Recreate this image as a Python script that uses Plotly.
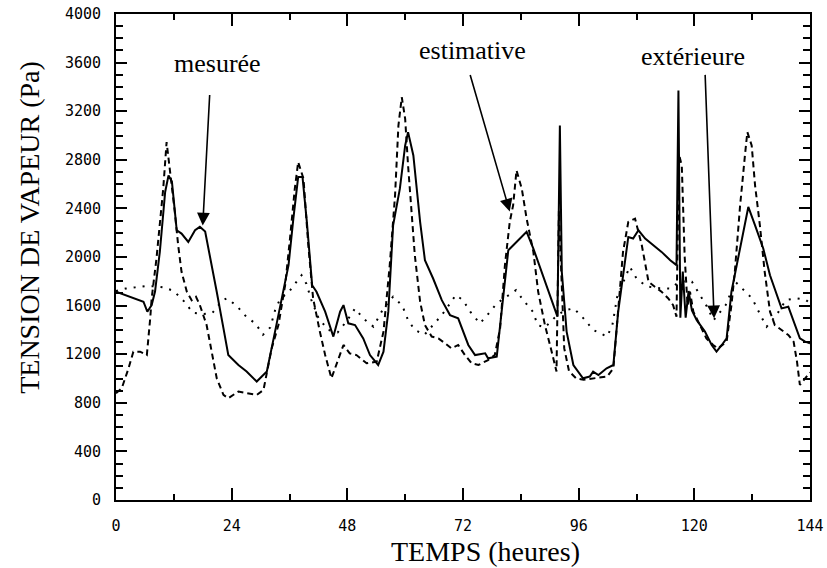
import plotly.graph_objects as go

# --- data ---
hours_mesuree = [0, 2.9, 5.7, 6.5, 7.4, 8.1, 9.1, 10.2, 10.9, 11.6, 12.6, 13.6, 15.0, 16.4, 17.4,
                 18.5, 19.5, 20.9, 22.3, 23.3, 25.4, 27.1, 29.2, 31.3, 33.0, 34.7, 35.8, 36.8, 37.8,
                 38.7, 39.6, 40.7, 41.6, 43.4, 45.1, 46.5, 47.2, 48.2, 49.6, 51.3, 52.7, 54.4, 55.5,
                 56.5, 57.5, 58.9, 60.0, 60.6, 61.7, 63.1, 64.1, 65.8, 67.6, 69.3, 71.0, 73.1, 74.5,
                 76.6, 77.2, 79.0, 80.0, 81.4, 83.1, 85.2, 86.6, 88.3, 90.4, 91.6, 92.1, 92.5, 93.5,
                 94.9, 96.9, 98.3, 99.0, 100.1, 101.8, 103.2, 104.2, 105.6, 106.3, 107.3, 108.4,
                 109.8, 111.5, 113.2, 115.0, 116.3, 116.7, 117.1, 117.6, 118.2, 118.8, 119.5, 120.5,
                 122.2, 123.6, 124.6, 125.7, 126.7, 127.7, 128.8, 130.1, 131.2, 132.6, 134.3, 135.7,
                 137.1, 138.1, 139.5, 140.9, 141.9, 143.0, 144]
tension_mesuree = [1714, 1673, 1632, 1550, 1604, 1716, 2045, 2535, 2672, 2620, 2220, 2193, 2124, 2220, 2248,
                   2209, 2015, 1714, 1413, 1193, 1111, 1057, 975, 1057, 1386, 1714, 1933, 2316, 2659,
                   2659, 2289, 1768, 1714, 1550, 1345, 1550, 1604, 1454, 1440, 1330, 1193, 1111, 1221,
                   1550, 2261, 2562, 2918, 3028, 2836, 2289, 1974, 1823, 1645, 1522, 1495, 1276, 1193,
                   1207, 1166, 1180, 1550, 2056, 2124, 2207, 2070, 1878, 1659, 1509, 3082, 1878, 1386,
                   1111, 1002, 1016, 1057, 1029, 1084, 1111, 1550, 1933, 2165, 2152, 2220,
                   2152, 2097, 2042, 1974, 1933, 3370, 1500, 1880, 1500, 1720, 1560, 1480,
                   1386, 1276, 1221, 1276, 1330, 1714, 1933, 2207, 2412, 2261, 2070, 1850,
                   1686, 1577, 1591, 1440, 1330, 1303, 1290]

hours_estimative = [0, 1.2, 2.6, 3.6, 5.0, 6.4, 7.1, 7.4, 8.4, 9.8, 10.5, 11.2, 12.2, 12.9, 13.6, 14.7,
                    15.7, 16.6, 17.4, 18.8, 19.9, 20.9, 22.3, 23.3, 25.4, 27.4, 29.2, 30.6, 31.3, 32.3,
                    33.7, 35.1, 36.1, 37.1, 37.8, 38.9, 39.9, 40.9, 42.3, 43.4, 44.7, 46.1, 47.2, 48.5,
                    49.9, 52.0, 54.1, 55.5, 56.8, 57.9, 58.6, 59.3, 60.0, 60.6, 61.3, 62.0, 63.1, 64.1,
                    65.5, 66.9, 68.3, 69.6, 71.0, 72.4, 73.8, 75.2, 77.2, 78.6, 79.7, 80.7, 81.7, 82.4,
                    83.1, 84.2, 85.2, 86.6, 87.6, 89.0, 90.4, 91.4, 91.9, 92.4, 93.0, 94.0, 95.5, 97.0,
                    99.0, 101.9, 103.2, 104.2, 105.2, 106.3, 107.7, 109.1, 109.8, 110.5, 111.8, 113.2,
                    114.6, 115.6, 116.3, 116.8, 117.4, 118.0, 118.6, 119.1, 119.8, 121.2, 122.5, 123.9,
                    124.9, 126.7, 127.7, 128.4, 129.5, 130.5, 131.0, 131.9, 132.6, 133.6, 134.6, 135.7,
                    136.7, 138.1, 139.5, 140.6, 141.3, 141.9, 143.0, 144]
tension_estimative = [879, 920, 1084, 1221, 1221, 1193, 1495, 1659, 1988, 2562, 2946, 2727, 2371, 2097, 1878, 1714,
                      1645, 1673, 1604, 1440, 1221, 1002, 865, 838, 893, 879, 865, 906, 1057, 1248,
                      1440, 1768, 2152, 2562, 2782, 2645, 2097, 1659, 1386, 1193, 1002, 1166, 1276, 1207,
                      1193, 1125, 1139, 1386, 1933, 2507, 3082, 3315, 3137, 2754, 2371, 2015, 1632, 1440,
                      1345, 1330, 1289, 1248, 1276, 1193, 1125, 1111, 1152, 1193, 1413, 1933, 2289, 2425,
                      2713, 2562, 2316, 2042, 1714, 1440, 1221, 1057, 2380, 1900, 1250, 1060, 1000, 990,
                      1000, 1016, 1084, 1550, 2042, 2289, 2316, 2097, 1933, 1796, 1755, 1714,
                      1659, 1604, 1509, 2850, 2750, 2000, 1600, 1714, 1550, 1440, 1330, 1276,
                      1248, 1303, 1604, 1878, 2425, 2836, 3028, 2918, 2590, 2261, 1878, 1550,
                      1440, 1399, 1358, 1303, 1139, 947, 1000, 1050]

hours_exterieure = [0, 2, 4, 6, 8, 10, 12, 14, 16, 18, 20, 22, 23, 25, 27, 29, 30.5, 32, 33, 34, 36, 37.5,
                    38.5, 39.5, 40.5, 42, 44, 46, 48, 49.6, 51.3, 53.4, 55.5, 57.5, 59.4, 60.6, 62, 64,
                    66, 67.6, 69, 70.5, 72, 73.5, 75.5, 77, 79, 82, 83, 84.5, 86.5, 87.5, 89, 91, 93,
                    95, 97, 99, 101.9, 103, 103.5, 104, 106.6, 108, 110, 112, 115, 117, 119.5, 121,
                    122.5, 124, 126.5, 128.5, 130, 132, 134, 135, 137, 139, 141, 143, 144]
tension_exterieure = [1720, 1740, 1750, 1760, 1760, 1750, 1720, 1640, 1540, 1530, 1540, 1640, 1660, 1600, 1510,
                      1450, 1360, 1420, 1560, 1650, 1720, 1800, 1850, 1780, 1650, 1500, 1400, 1380, 1480,
                      1577, 1495, 1427, 1577, 1673, 1600, 1480, 1400, 1360, 1450, 1522, 1600, 1687, 1645,
                      1550, 1454, 1520, 1618, 1700, 1727, 1645, 1550, 1440, 1420, 1500, 1560, 1577, 1495,
                      1400, 1345, 1440, 1563, 1673, 1920, 1823, 1760, 1745, 1740, 1800, 1796, 1700, 1600,
                      1480, 1604, 1796, 1740, 1659, 1500, 1427, 1520, 1645, 1660, 1650, 1620]

x_ticks = [0, 24, 48, 72, 96, 120, 144]
y_ticks = [0, 400, 800, 1200, 1600, 2000, 2400, 2800, 3200, 3600, 4000]

fig = go.Figure()
fig.add_trace(go.Scatter(x=hours_exterieure, y=tension_exterieure, mode="lines",
                         line=dict(color="black", width=2, dash="2px,7px"), name="extérieure"))
fig.add_trace(go.Scatter(x=hours_estimative, y=tension_estimative, mode="lines",
                         line=dict(color="black", width=2, dash="6px,4px"), name="estimative"))
fig.add_trace(go.Scatter(x=hours_mesuree, y=tension_mesuree, mode="lines",
                         line=dict(color="black", width=2), name="mesurée"))

serif = "Liberation Serif, Times New Roman, serif"
ann_font = dict(family=serif, size=26, color="black")

labels = [
    ("mesurée", 21.0, 3589, 18.0, 2259, 7, -132),
    ("estimative", 73.9, 3696, 81.7, 2374, -40, -138),
    ("extérieure", 119.7, 3647, 124.1, 1495, -9, -245),
]
for text, tx, ty, ax_, ay_, dx, dy in labels:
    fig.add_annotation(x=tx, y=ty, text=text, showarrow=False, font=ann_font,
                       xanchor="center", yanchor="middle")
    fig.add_annotation(x=ax_, y=ay_, text="", showarrow=True, ax=dx, ay=dy,
                       axref="pixel", ayref="pixel", arrowhead=2, arrowsize=1.6,
                       arrowwidth=1.6, arrowcolor="black", standoff=0)

# axis titles placed as paper annotations
title_font = dict(family=serif, size=28, color="black")
fig.add_annotation(text="TENSION DE VAPEUR (Pa)", xref="paper", yref="paper",
                   x=-0.124, y=0.562, textangle=-90, showarrow=False, font=title_font,
                   xanchor="center", yanchor="middle")
fig.add_annotation(text="TEMPS (heures)", xref="paper", yref="paper",
                   x=0.532, y=-0.105, showarrow=False, font=title_font,
                   xanchor="center", yanchor="middle")

tick_font = dict(family="DejaVu Sans Mono, monospace", size=15, color="black")
fig.update_layout(
    width=827, height=568,
    margin=dict(l=116, r=17, t=14, b=68, autoexpand=False),
    paper_bgcolor="white", plot_bgcolor="white",
    showlegend=False,
    xaxis=dict(range=[0, 144], tickmode="array", tickvals=x_ticks,
               ticktext=[str(v) for v in x_ticks], automargin=False,
               ticks="inside", ticklen=12, tickwidth=2, tickcolor="black",
               minor=dict(dtick=12, tick0=0, ticks="inside", ticklen=6, tickwidth=2, tickcolor="black"),
               showline=True, linewidth=2, linecolor="black", mirror="allticks",
               showgrid=False, zeroline=False, tickfont=tick_font, ticklabelstandoff=11),
    yaxis=dict(range=[0, 4000], tickmode="array", tickvals=y_ticks,
               ticktext=[str(v) for v in y_ticks], automargin=False,
               ticks="inside", ticklen=11, tickwidth=2, tickcolor="black",
               minor=dict(dtick=100, tick0=0, ticks="inside", ticklen=7, tickwidth=2, tickcolor="black"),
               showline=True, linewidth=2, linecolor="black", mirror="allticks",
               showgrid=False, zeroline=False, tickfont=tick_font, ticklabelstandoff=10),
)

fig.write_html("out.html", config={"displayModeBar": False},
               post_script="document.body.style.margin='0px';document.body.style.padding='0px';"
                           "document.body.style.overflow='hidden';")
